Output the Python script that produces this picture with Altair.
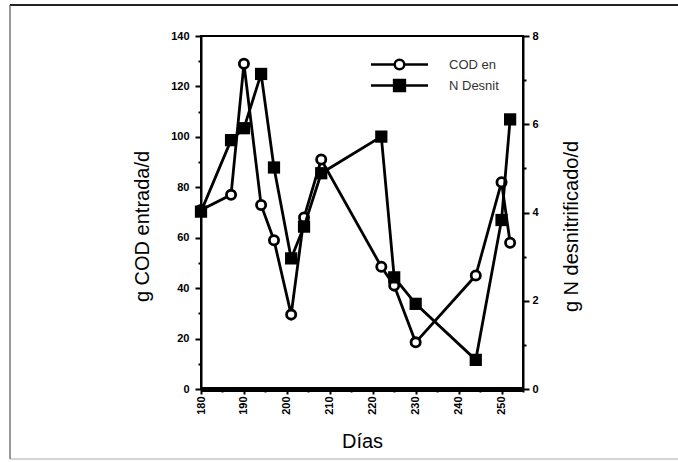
import altair as alt
import pandas as pd

# ---- data ----
dias = [180, 187, 190, 194, 197, 201, 204, 208, 222, 225, 230, 244, 250, 252]
cod_entrada = [71, 77, 129, 73, 59, 29.5, 68, 91, 48.5, 41, 18.5, 45, 82, 58]
n_desnit = [4.02, 5.64, 5.91, 7.14, 5.02, 2.96, 3.68, 4.89, 5.72, 2.53, 1.93, 0.66, 3.83, 6.11]
series_names = ["COD en", "N Desnit"]
x_ticks = list(range(180, 256, 5))
cod_ticks = list(range(0, 141, 10))
n_ticks = list(range(0, 9, 1))

df = pd.DataFrame({"dia": dias, "cod": cod_entrada, "n": n_desnit})
legend_df = pd.DataFrame({"serie": series_names})

FONT = "Liberation Sans"

x_enc = alt.X(
    "dia:Q",
    scale=alt.Scale(domain=[180, 255], nice=False, zero=False),
    axis=alt.Axis(
        values=x_ticks,
        labelExpr="datum.value % 10 == 0 ? datum.label : ''",
        labelAngle=270,
        tickSize={"condition": {"test": "datum.value % 10 == 0", "value": 5}, "value": 3},
        tickWidth=2,
        domainWidth=5,
        labelPadding=2,
        title="Días",
        titleFontSize=20,
        titleFontWeight="normal",
        titleY=58,
        titleBaseline="alphabetic",
    ),
)

cod_y = alt.Y(
    "cod:Q",
    scale=alt.Scale(domain=[0, 140], nice=False),
    axis=alt.Axis(
        orient="left",
        values=cod_ticks,
        labelExpr="datum.value % 20 == 0 ? datum.label : ''",
        tickSize={"condition": {"test": "datum.value % 20 == 0", "value": 6}, "value": 3},
        tickWidth=2,
        domainWidth=2,
        labelPadding=6,
        title="g COD entrada/d",
        titleFontSize=20,
        titleFontWeight="normal",
        titleAngle=270,
        titleX=-53,
        titleY=190,
        titleBaseline="alphabetic",
    ),
)

n_y = alt.Y(
    "n:Q",
    scale=alt.Scale(domain=[0, 8], nice=False),
    axis=alt.Axis(
        orient="right",
        values=n_ticks,
        labelExpr="datum.value % 2 == 0 ? datum.label : ''",
        tickSize={"condition": {"test": "datum.value % 2 == 0", "value": 6}, "value": 3},
        tickWidth=2,
        domainWidth=2,
        labelPadding=3,
        title="g N desnitrificado/d",
        titleFontSize=20,
        titleFontWeight="normal",
        titleAngle=270,
        titleX=54,
        titleY=190,
        titleBaseline="alphabetic",
    ),
)

cod_line = alt.Chart(df).mark_line(color="black", strokeWidth=2.8).encode(x=x_enc, y=cod_y)
cod_pts = alt.Chart(df).mark_point(
    shape="circle", size=85, fill="white", stroke="black", strokeWidth=2.8, opacity=1
).encode(x=x_enc, y=cod_y)
cod_layer = alt.layer(cod_line, cod_pts)

n_line = alt.Chart(df).mark_line(color="black", strokeWidth=2.8).encode(x=x_enc, y=n_y)
n_pts = alt.Chart(df).mark_square(size=150, color="black", opacity=1).encode(x=x_enc, y=n_y)
n_layer = alt.layer(n_line, n_pts)

path_circle = "M-4.75,0L-0.8,0M0.8,0L4.75,0M-0.8,0A0.8,0.8,0,1,0,0.8,0A0.8,0.8,0,1,0,-0.8,0Z"
path_square = "M-4.75,0L-0.9,0M0.9,0L4.75,0M-0.9,-0.9L0.9,-0.9L0.9,0.9L-0.9,0.9Z"

legend_props = dict(
    title=None,
    orient="none",
    legendX=191,
    legendY=21,
    padding=0,
    symbolSize=144,
    symbolStrokeWidth=2.5,
    symbolStrokeColor="black",
    symbolOpacity=1,
    labelOffset=42,
    labelFontSize=13,
    labelFont=FONT,
    labelFontWeight="normal",
    labelColor="#333333",
    rowPadding=0,
)

legend_layer = alt.Chart(legend_df).mark_point(strokeWidth=2.5, opacity=1).encode(
    x=alt.value(-600),
    y=alt.value(-600),
    shape=alt.Shape("serie:N", scale=alt.Scale(domain=series_names, range=[path_circle, path_square]),
                    legend=alt.Legend(**legend_props)),
    fill=alt.Fill("serie:N", scale=alt.Scale(domain=series_names, range=["white", "black"]),
                  legend=alt.Legend(**legend_props)),
    stroke=alt.Stroke("serie:N", scale=alt.Scale(domain=series_names, range=["black", "black"]),
                      legend=alt.Legend(**legend_props)),
)

frame_df = pd.DataFrame({"k": [0]})
frame_top = alt.Chart(frame_df).mark_rule(color="#222222", strokeWidth=2).encode(
    x=alt.value(-191), x2=alt.value(480), y=alt.value(-31))
frame_left = alt.Chart(frame_df).mark_rule(color="#555555", strokeWidth=1.2).encode(
    x=alt.value(-191), y=alt.value(-31), y2=alt.value(423))
frame_bottom = alt.Chart(frame_df).mark_rule(color="#aaaaaa", strokeWidth=1.2).encode(
    x=alt.value(-191), x2=alt.value(480), y=alt.value(423))

chart = (
    alt.layer(frame_top, frame_left, frame_bottom, cod_layer, n_layer, legend_layer)
    .resolve_scale(y="independent")
    .properties(
        width=322,
        height=353,
        autosize=alt.AutoSizeParams(type="none"),
        padding={"left": 201, "top": 36, "right": 155, "bottom": 73},
        background="white",
    )
    .configure_view(stroke="black", strokeWidth=2)
    .configure_axis(
        grid=False,
        domainColor="black",
        tickColor="black",
        labelColor="black",
        titleColor="black",
        labelFont=FONT,
        titleFont=FONT,
        labelFontSize=11,
        labelFontWeight="bold",
    )
)

chart.save("out.html", embed_options={"renderer": "svg", "actions": False})
